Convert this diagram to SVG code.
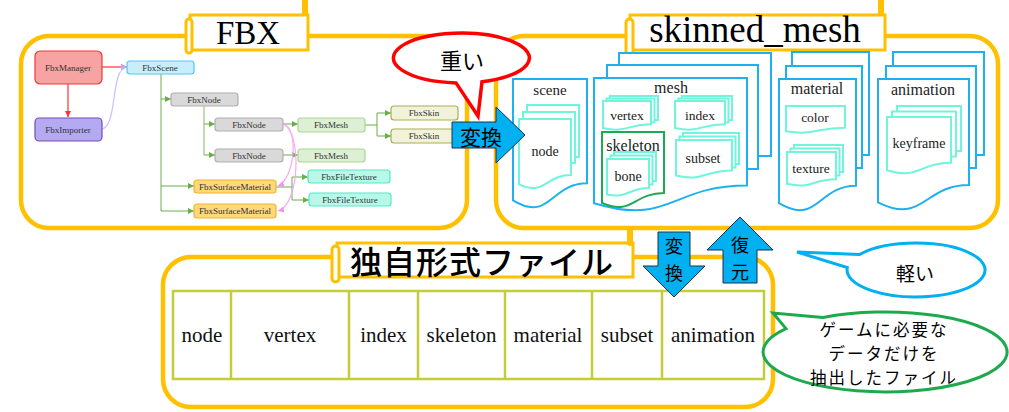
<svg xmlns="http://www.w3.org/2000/svg" width="1009" height="412" viewBox="0 0 1009 412">
<style>
.panel{fill:#fff;stroke:#FFC000;stroke-width:4.5}
.scroll{fill:#fff;stroke:#FFC000;stroke-width:3}
.title{fill:#000;text-anchor:middle}
.jp{font-family:"Noto Sans CJK JP",sans-serif;fill:#000;text-anchor:middle;dominant-baseline:central}
.nb{stroke-width:1.2}
.lbl{font-size:9px;fill:#333;text-anchor:middle;dominant-baseline:central}
.doc{fill:#fff;stroke:#1FB0F0;stroke-width:2}
.sub{fill:#fff;stroke:#70F4DC;stroke-width:2}
.skel{fill:#fff;stroke:#1EAA55;stroke-width:2}
.dt{fill:#222;text-anchor:middle}
.tl{font-size:21px;fill:#111;text-anchor:middle}
.arrow{fill:#00B0F0;stroke:#1F3050;stroke-width:1}
.g{fill:none;stroke:#6AAE4A;stroke-width:1}
.g2{fill:none;stroke:#96C87A;stroke-width:1.2}
</style>
<defs>
<marker id="mg" viewBox="0 0 6 6" refX="6" refY="3" markerWidth="6" markerHeight="6" orient="auto" markerUnits="userSpaceOnUse"><path d="M0,0 L6,3 L0,6 Z" fill="#6AAE4A"/></marker>
<marker id="mr" viewBox="0 0 6 6" refX="6" refY="3" markerWidth="6" markerHeight="6" orient="auto" markerUnits="userSpaceOnUse"><path d="M0,0 L6,3 L0,6 Z" fill="#FF3030"/></marker>
<marker id="ml" viewBox="0 0 6 6" refX="6" refY="3" markerWidth="6" markerHeight="6" orient="auto" markerUnits="userSpaceOnUse"><path d="M0,0 L6,3 L0,6 Z" fill="#B8B0FF"/></marker>
<marker id="mp" viewBox="0 0 6 6" refX="6" refY="3" markerWidth="6" markerHeight="6" orient="auto" markerUnits="userSpaceOnUse"><path d="M0,0 L6,3 L0,6 Z" fill="#F490F4"/></marker>
</defs>

<!-- Panels -->
<g id="panel-fbx">
<rect class="panel" x="21" y="36" width="446" height="192" rx="28"/>
</g>
<g id="panel-skinned">
<rect class="panel" x="496" y="36" width="502" height="192" rx="28"/>
</g>
<g id="panel-custom">
<rect class="panel" x="163" y="257" width="610" height="150" rx="28"/>
</g>

<!-- Titles -->
<g id="title-fbx" font-family="Liberation Serif, DejaVu Serif, serif">
<rect class="scroll" x="190" y="15" width="118" height="35"/>
<rect class="scroll" x="186" y="19" width="6" height="34" rx="3"/>
<path d="M305,0 V14" stroke="#FFC000" stroke-width="6"/>
<text class="title" x="248" y="44" font-size="33">FBX</text>
</g>
<g id="title-skinned" font-family="Liberation Serif, DejaVu Serif, serif">
<rect class="scroll" x="630" y="15" width="255" height="35"/>
<rect class="scroll" x="626" y="19" width="7" height="36" rx="3.5"/>
<path d="M881,0 V14" stroke="#FFC000" stroke-width="6"/>
<text class="title" x="755" y="42" font-size="37">skinned_mesh</text>
</g>
<g id="title-custom">
<rect class="scroll" x="337" y="243" width="296" height="34"/>
<rect class="scroll" x="332" y="246" width="7" height="36" rx="3.5"/>
<path d="M630,243 V230" stroke="#FFC000" stroke-width="6" stroke-linecap="round"/>
<text class="jp" x="482" y="260" font-size="32" font-weight="500" letter-spacing="1">独自形式ファイル</text>
</g>

<!-- FBX internal connectors -->
<g id="fbx-connectors">
<path d="M102,67 H127" fill="none" stroke="#FF3030" stroke-width="1.2" marker-end="url(#mr)"/>
<path d="M68,84 V117" fill="none" stroke="#FF3030" stroke-width="1.2" marker-end="url(#mr)"/>
<path d="M102,129 C118,126 110,68 127,67" fill="none" stroke="#C8C0FF" stroke-width="1.2" marker-end="url(#ml)"/>
<path class="g" d="M161,74 V211"/>
<path class="g" d="M161,99 H171" marker-end="url(#mg)"/>
<path class="g" d="M161,186 H194" marker-end="url(#mg)"/>
<path class="g" d="M161,211 H194" marker-end="url(#mg)"/>
<path class="g2" d="M204,106 V155"/>
<path class="g" d="M204,124 H215" marker-end="url(#mg)"/>
<path class="g" d="M204,155 H215" marker-end="url(#mg)"/>
<path class="g" d="M283,124 H298" marker-end="url(#mg)"/>
<path class="g" d="M283,155 H298" marker-end="url(#mg)"/>
<path class="g" d="M365,125 H377 M377,113 V136"/>
<path class="g" d="M377,113 H391" marker-end="url(#mg)"/>
<path class="g" d="M377,136 H391" marker-end="url(#mg)"/>
<path class="g" d="M276,187 H292 M292,177 V200"/>
<path class="g" d="M292,177 H308" marker-end="url(#mg)"/>
<path class="g" d="M292,200 H309" marker-end="url(#mg)"/>
<path d="M283,124 C300,128 294,180 278,186" fill="none" stroke="#F8A8F8" stroke-width="1.2" marker-end="url(#mp)"/>
<path d="M283,124 C302,132 300,205 278,211" fill="none" stroke="#F8A8F8" stroke-width="1.2" marker-end="url(#mp)"/>
</g>

<!-- FBX nodes -->
<g id="fbx-nodes" font-family="Liberation Serif, DejaVu Serif, serif">
<g id="fbx-manager"><rect class="nb" x="35" y="51" width="67" height="33" rx="5" fill="#F8A3A3" stroke="#F03838"/><text class="lbl" x="68" y="68">FbxManager</text></g>
<g id="fbx-importer"><rect class="nb" x="35" y="118" width="67" height="23" rx="4" fill="#B3AAF2" stroke="#7A48B8"/><text class="lbl" x="68" y="130">FbxImporter</text></g>
<g id="fbx-scene"><rect class="nb" x="127" y="61" width="67" height="13" rx="3" fill="#C8EEFB" stroke="#55C8F2"/><text class="lbl" x="160" y="67.5">FbxScene</text></g>
<g id="fbx-node1"><rect class="nb" x="171" y="93" width="67" height="13" rx="3" fill="#D9D9D9" stroke="#B0B0B0"/><text class="lbl" x="204" y="99.5">FbxNode</text></g>
<g id="fbx-node2"><rect class="nb" x="215" y="118" width="68" height="13" rx="3" fill="#D9D9D9" stroke="#B0B0B0"/><text class="lbl" x="249" y="124.5">FbxNode</text></g>
<g id="fbx-node3"><rect class="nb" x="215" y="149" width="68" height="13" rx="3" fill="#D9D9D9" stroke="#B0B0B0"/><text class="lbl" x="249" y="155.5">FbxNode</text></g>
<g id="fbx-mesh1"><rect class="nb" x="298" y="118" width="67" height="14" rx="3" fill="#DDF0D6" stroke="#A8D890"/><text class="lbl" x="331" y="125">FbxMesh</text></g>
<g id="fbx-mesh2"><rect class="nb" x="298" y="149" width="67" height="13" rx="3" fill="#DDF0D6" stroke="#A8D890"/><text class="lbl" x="331" y="155.5">FbxMesh</text></g>
<g id="fbx-skin1"><rect class="nb" x="391" y="106" width="67" height="14" rx="3" fill="#F2F2DA" stroke="#A8B050"/><text class="lbl" x="424" y="113">FbxSkin</text></g>
<g id="fbx-skin2"><rect class="nb" x="391" y="129" width="67" height="14" rx="3" fill="#F2F2DA" stroke="#A8B050"/><text class="lbl" x="424" y="136">FbxSkin</text></g>
<g id="fbx-mat1"><rect class="nb" x="194" y="180" width="82" height="13" rx="3" fill="#FFD87A" stroke="#F2B232"/><text class="lbl" x="235" y="186.5">FbxSurfaceMaterial</text></g>
<g id="fbx-mat2"><rect class="nb" x="194" y="204" width="82" height="14" rx="3" fill="#FFD87A" stroke="#F2B232"/><text class="lbl" x="235" y="211">FbxSurfaceMaterial</text></g>
<g id="fbx-tex1"><rect class="nb" x="308" y="170" width="82" height="13" rx="3" fill="#B8F8E8" stroke="#55E8C8"/><text class="lbl" x="349" y="176.5">FbxFileTexture</text></g>
<g id="fbx-tex2"><rect class="nb" x="309" y="193" width="82" height="13" rx="3" fill="#B8F8E8" stroke="#55E8C8"/><text class="lbl" x="350" y="199.5">FbxFileTexture</text></g>
</g>

<!-- skinned_mesh documents -->
<g id="docs" font-family="Liberation Serif, DejaVu Serif, serif">
<g id="doc-scene">
<path class="doc" d="M513,79 H587 V183.3 C550,183.3 550,222.9 513,200.4 Z"/>
<text class="dt" x="550" y="95" font-size="15">scene</text>
<rect class="sub" x="527" y="105" width="52" height="52"/>
<rect class="sub" x="523" y="112" width="52" height="51"/>
<path class="sub" d="M519,119 H571 V175.1 C545,175.1 545,196.5 519,184.4 Z"/>
<text class="dt" x="545" y="156" font-size="14">node</text>
</g>
<g id="doc-mesh">
<rect class="doc" x="619" y="53" width="152" height="103"/>
<rect class="doc" x="607" y="65" width="151" height="104"/>
<path class="doc" d="M594,78 H747 V185.5 C670.5,185.5 670.5,226.3 594,203.2 Z"/>
<text class="dt" x="671" y="93" font-size="16">mesh</text>
<rect class="sub" x="610" y="96" width="48" height="24"/>
<rect class="sub" x="606.5" y="98.5" width="48" height="24"/>
<path class="sub" d="M603,101 H651 V124.3 C627,124.3 627,133.1 603,128.1 Z"/>
<text class="dt" x="627" y="120" font-size="13.5">vertex</text>
<rect class="sub" x="682" y="96" width="50" height="24"/>
<rect class="sub" x="678.5" y="98.5" width="50" height="24"/>
<path class="sub" d="M675,101 H725 V124.3 C700,124.3 700,133.1 675,128.1 Z"/>
<text class="dt" x="700" y="120" font-size="13.5">index</text>
<path class="skel" d="M602,132 H664 V193 C633,193 633,216.1 602,203 Z"/>
<text class="dt" x="633" y="151" font-size="16">skeleton</text>
<rect class="sub" x="614" y="152" width="42" height="29"/>
<rect class="sub" x="610.5" y="155.5" width="42" height="29"/>
<path class="sub" d="M607,159 H649 V187.9 C628,187.9 628,198.9 607,194.6 Z"/>
<text class="dt" x="628" y="181" font-size="14">bone</text>
<rect class="sub" x="683" y="133" width="56" height="31"/>
<rect class="sub" x="679.5" y="136.5" width="56" height="31"/>
<path class="sub" d="M676,140 H732 V170.5 C704,170.5 704,182.1 676,175.5 Z"/>
<text class="dt" x="703" y="163" font-size="14">subset</text>
</g>
<g id="doc-material">
<rect class="doc" x="792" y="52" width="77" height="103"/>
<rect class="doc" x="786" y="66" width="76" height="102"/>
<path class="doc" d="M779,79 H856 V185.7 C817.5,185.7 817.5,226.2 779,203.2 Z"/>
<text class="dt" x="817" y="94" font-size="16">material</text>
<path class="sub" d="M786,106 H845 V127.7 C815.5,127.7 815.5,135.9 786,131.2 Z"/>
<text class="dt" x="815" y="122" font-size="13.5">color</text>
<rect class="sub" x="794" y="145" width="49" height="27"/>
<rect class="sub" x="790.5" y="148.5" width="49" height="27"/>
<path class="sub" d="M787,152 H836 V179.3 C811.5,179.3 811.5,189.6 787,183.8 Z"/>
<text class="dt" x="811" y="173" font-size="13.5">texture</text>
</g>
<g id="doc-animation">
<rect class="doc" x="893" y="52" width="91" height="103"/>
<rect class="doc" x="886" y="66" width="90" height="102"/>
<path class="doc" d="M878,79 H969 V184.9 C923.5,184.9 923.5,225.1 878,202.3 Z"/>
<text class="dt" x="923" y="95" font-size="16">animation</text>
<rect class="sub" x="897" y="106" width="64" height="45"/>
<rect class="sub" x="892" y="111.5" width="64" height="45"/>
<path class="sub" d="M887,117 H951 V162.7 C919,162.7 919,180.1 887,170.2 Z"/>
<text class="dt" x="919" y="148" font-size="14">keyframe</text>
</g>
</g>

<!-- Table -->
<g id="table" font-family="Liberation Serif, DejaVu Serif, serif">
<rect x="173" y="291" width="591" height="88" fill="#fff" stroke="#C3CD3A" stroke-width="2.5"/>
<path d="M231,291 V379 M349,291 V379 M418,291 V379 M505,291 V379 M592,291 V379 M662,291 V379" stroke="#C3CD3A" stroke-width="2.5"/>
<text class="tl" x="202" y="342">node</text>
<text class="tl" x="290" y="342">vertex</text>
<text class="tl" x="383.5" y="342">index</text>
<text class="tl" x="461.5" y="342">skeleton</text>
<text class="tl" x="548" y="342">material</text>
<text class="tl" x="627" y="342">subset</text>
<text class="tl" x="713" y="342">animation</text>
</g>

<!-- Block arrows -->
<g id="arrows">
<g id="arrow-convert-right">
<polygon class="arrow" points="452,122 496,122 496,107 525,135 496,163 496,148 452,148"/>
<text class="jp" x="481" y="136" font-size="21">変換</text>
</g>
<g id="arrow-convert-down">
<polygon class="arrow" points="658,232 690,232 690,266 705,266 674,297 643,266 658,266"/>
<text class="jp" x="674" y="245" font-size="18">変</text>
<text class="jp" x="674" y="272" font-size="18">換</text>
</g>
<g id="arrow-restore-up">
<polygon class="arrow" points="740,217 773,250 757,250 757,283 723,283 723,250 707,250"/>
<text class="jp" x="740" y="244" font-size="18">復</text>
<text class="jp" x="740" y="271" font-size="18">元</text>
</g>
</g>

<!-- Callouts -->
<g id="callout-heavy">
<path d="M482,81.8 L478,116 L456,82.9 A68 25 0 1 1 482,81.8 Z" fill="#fff" stroke="#FF0000" stroke-width="3.5"/>
<text class="jp" x="462" y="59" font-size="22">重い</text>
</g>
<g id="callout-light">
<path d="M859.5,254.5 L797,252 L847.3,267.6 A69 27 0 1 0 859.5,254.5 Z" fill="#fff" stroke="#00B0F0" stroke-width="3"/>
<text class="jp" x="915" y="272" font-size="19">軽い</text>
</g>
<g id="callout-game">
<path d="M823,317.5 L773,313 L786,328.6 A122 40 0 1 0 823,317.5 Z" fill="#fff" stroke="#1DAA4E" stroke-width="3"/>
<text class="jp" x="884" y="329" font-size="16.5" letter-spacing="2">ゲームに必要な</text>
<text class="jp" x="884" y="353" font-size="16.5" letter-spacing="2">データだけを</text>
<text class="jp" x="884" y="377" font-size="16.5" letter-spacing="2">抽出したファイル</text>
</g>
</svg>
